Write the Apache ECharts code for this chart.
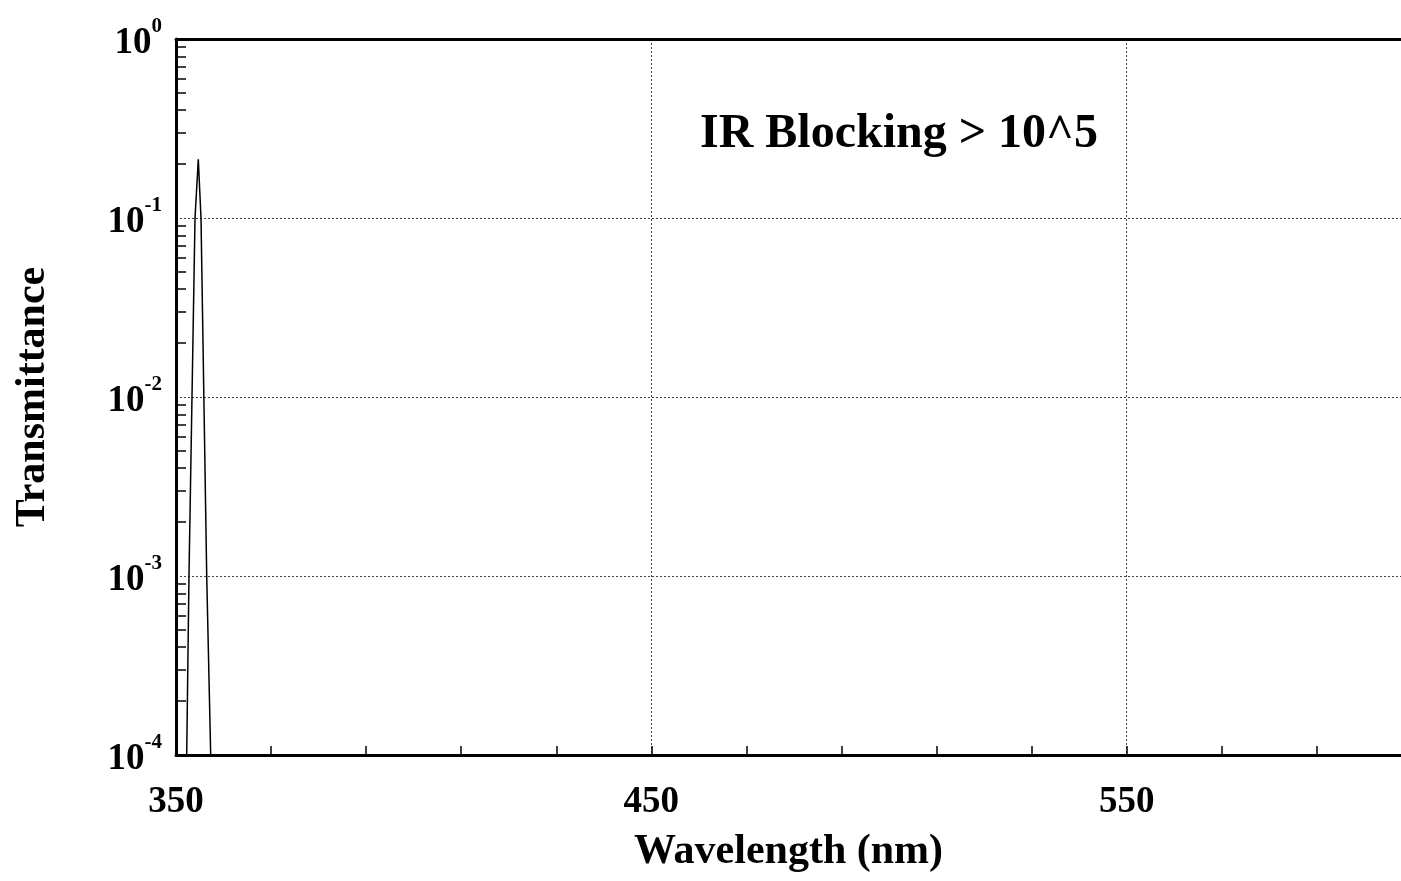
<!DOCTYPE html>
<html>
<head>
<meta charset="utf-8">
<script src="https://cdn.jsdelivr.net/npm/echarts@6/dist/echarts.min.js"></script>
<style>
html,body{margin:0;padding:0;background:#fff;}
#chart{width:1401px;height:881px;}
</style>
</head>
<body>
<div id="chart"></div>
<script>
// ---- data ----
const wavelength = [351.0, 352.25, 352.73, 354.0, 354.69, 355.26, 356.46, 357.3, 358.5];
const transmittance = [1e-6, 1e-4, 1e-3, 0.1, 0.213, 0.1, 1e-3, 1e-4, 1e-6];

const xMin = 350, xMax = 607.7;
const xLabelValues = [350, 450, 550];
const xMinorTicks = [370, 390, 410, 430, 450, 470, 490, 510, 530, 550, 570, 590];
const yDecades = [1e-4, 1e-3, 1e-2, 1e-1, 1];
const annotation = 'IR Blocking > 10^5';
const xTitle = 'Wavelength (nm)';
const yTitle = 'Transmittance';

// minor log ticks 2..9 per decade (axis decoration)
const yMinorTicks = [];
for (let d = -4; d < 0; d++) {
  for (let m = 2; m <= 9; m++) yMinorTicks.push(m * Math.pow(10, d));
}

const FONT = "'Liberation Serif','Times New Roman',serif";
const chart = echarts.init(document.getElementById('chart'), null, {renderer: 'canvas'});

const gridLine = {show: true, lineStyle: {color: '#444', width: 1, type: [2, 2]}};

chart.setOption({
  animation: false,
  backgroundColor: '#ffffff',
  grid: {left: 176, top: 39, right: 0, bottom: 126, containLabel: false},
  xAxis: [
    {
      type: 'value', position: 'bottom', min: xMin, max: xMax,
      axisLine: {show: true, lineStyle: {color: '#000', width: 3}},
      axisTick: {show: false, customValues: xLabelValues},
      axisLabel: {
        customValues: xLabelValues, margin: 29,
        fontFamily: FONT, fontWeight: 'bold', fontSize: 37, color: '#000'
      },
      splitLine: gridLine,
      name: xTitle, nameLocation: 'middle', nameGap: 76,
      nameTextStyle: {fontFamily: FONT, fontWeight: 'bold', fontSize: 42, color: '#000'}
    },
    {
      type: 'value', position: 'bottom', min: xMin, max: xMax,
      axisLine: {show: false},
      axisTick: {show: true, inside: true, length: 9, customValues: xMinorTicks,
        lineStyle: {color: '#000', width: 1.5}},
      axisLabel: {show: false},
      splitLine: {show: false}
    },
    {
      type: 'value', position: 'top', min: xMin, max: xMax,
      axisLine: {show: true, lineStyle: {color: '#000', width: 3}},
      axisTick: {show: false},
      axisLabel: {show: false},
      splitLine: {show: false}
    }
  ],
  yAxis: [
    {
      type: 'log', logBase: 10, min: 1e-4, max: 1, position: 'left',
      axisLine: {show: true, lineStyle: {color: '#000', width: 3}},
      axisTick: {show: false, customValues: yDecades},
      axisLabel: {
        customValues: yDecades, margin: 14,
        formatter: function (v) {
          const e = Math.round(Math.log10(v));
          return '{b|10}{s|' + e + '}';
        },
        rich: {
          b: {fontFamily: FONT, fontWeight: 'bold', fontSize: 37, color: '#000', lineHeight: 45, verticalAlign: 'bottom'},
          s: {fontFamily: FONT, fontWeight: 'bold', fontSize: 21, color: '#000', verticalAlign: 'top', lineHeight: 21}
        }
      },
      splitLine: gridLine,
      name: yTitle, nameLocation: 'middle', nameGap: 122, nameRotate: 90,
      nameTextStyle: {fontFamily: FONT, fontWeight: 'bold', fontSize: 42, color: '#000'}
    },
    {
      type: 'log', logBase: 10, min: 1e-4, max: 1, position: 'left',
      axisLine: {show: false},
      axisTick: {show: true, inside: true, length: 10, customValues: yMinorTicks,
        lineStyle: {color: '#000', width: 1.5}},
      axisLabel: {show: false},
      splitLine: {show: false}
    }
  ],
  series: [
    {
      type: 'line', xAxisIndex: 0, yAxisIndex: 0,
      data: wavelength.map((w, i) => [w, transmittance[i]]),
      showSymbol: false, symbol: 'none', clip: true,
      lineStyle: {color: '#000', width: 1.5}
    }
  ],
  graphic: [
    {
      type: 'text', left: 700, top: 111,
      style: {text: annotation, fontFamily: FONT, fontWeight: 'bold', fontSize: 48, fill: '#000'}
    }
  ]
});
</script>
</body>
</html>
